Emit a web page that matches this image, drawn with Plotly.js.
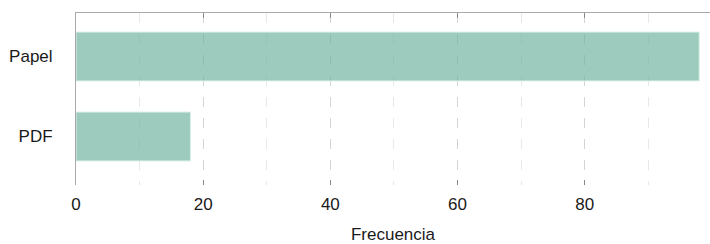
<!DOCTYPE html>
<html>
<head>
<meta charset="utf-8">
<script src="https://cdn.plot.ly/plotly-3.0.1.min.js"></script>
<style>html,body{margin:0;padding:0;background:#fff;}#chart{width:710px;height:244px;}</style>
</head>
<body>
<div id="chart"></div>
<script>
const categories = ["PDF", "Papel"];
const frequencies = [18, 98];
const xTickValues = [0, 20, 40, 60, 80];
const xTitle = "Frecuencia";

const font = {family: "Liberation Sans, Arial, Helvetica, sans-serif", size: 17, color: "#1a1a1a"};

const trace = {
  type: "bar",
  orientation: "h",
  x: frequencies,
  y: categories,
  marker: {color: "rgba(110,180,160,0.68)", line: {color: "rgba(215,238,231,1)", width: 1}},
  hoverinfo: "none"
};

const ghost = {
  type: "scatter", x: [0], y: [categories[0]], xaxis: "x2", mode: "none", showlegend: false, hoverinfo: "none"
};

const layout = {
  width: 710, height: 244,
  margin: {l: 76, r: 0, t: 13, b: 59},
  paper_bgcolor: "#fff", plot_bgcolor: "#fff",
  font: font,
  showlegend: false,
  bargap: 0.39,
  xaxis: {
    range: [0, 99.7],
    tickvals: xTickValues,
    ticks: "inside", ticklen: 5, tickcolor: "#888", tickwidth: 1,
    showline: false, zeroline: false,
    showgrid: true, gridcolor: "#d4d4d4", griddash: "10px,11px", gridwidth: 1,
    minor: {dtick: 10, tick0: 0, showgrid: true, gridcolor: "#e8e8e8", griddash: "10px,11px", ticks: ""},
    ticklabelstandoff: 7,
    tickfont: font,
    title: {text: xTitle, font: font, standoff: 16}
  },
  xaxis2: {
    overlaying: "x", matches: "x", side: "top",
    tickvals: xTickValues,
    showline: true, linecolor: "#aaa", linewidth: 1,
    ticks: "inside", ticklen: 5, tickcolor: "#888",
    showticklabels: false, showgrid: false, zeroline: false
  },
  yaxis: {
    type: "category",
    categoryorder: "array", categoryarray: categories,
    range: [-0.606, 1.544],
    showline: true, linecolor: "#aaa", linewidth: 1,
    showgrid: false, zeroline: false, ticks: "",
    ticklabelstandoff: 19,
    tickfont: font
  }
};

Plotly.newPlot("chart", [trace, ghost], layout, {displayModeBar: false, staticPlot: true});
</script>
</body>
</html>
